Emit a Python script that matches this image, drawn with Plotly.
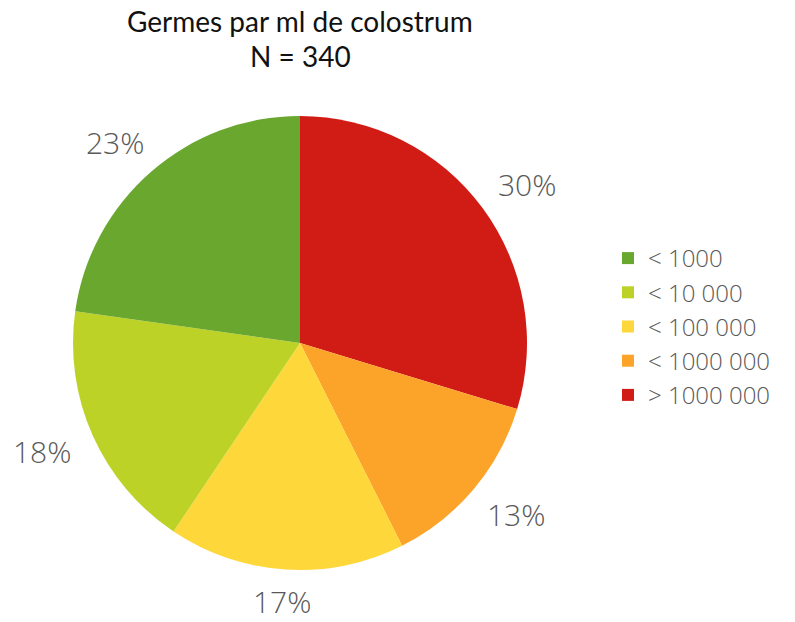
import math
import plotly.graph_objects as go

# Colony counts per ml of colostrum, share of samples (%)
categories = ["< 1000", "< 10 000", "< 100 000", "< 1000 000", "> 1000 000"]
shares = [23, 18, 17, 13, 30]
colors = ["#6aa72f", "#bdd227", "#fed73b", "#fca42a", "#d11c16"]

W, H = 795, 622
cx, cy, R = 300, 343, 227  # pie centre and radius in pixels

# Slices run counter-clockwise from 12 o'clock in category order:
# drawn clockwise with the order reversed, legend reversed back.
fig = go.Figure(
    go.Pie(
        labels=categories[::-1],
        values=shares[::-1],
        marker=dict(colors=colors[::-1], line=dict(width=0)),
        sort=False,
        direction="clockwise",
        rotation=0,
        textinfo="none",
        hoverinfo="label+value",
        domain=dict(x=[(cx - R) / W, (cx + R) / W], y=[1 - (cy + R) / H, 1 - (cy - R) / H]),
    )
)

# Percentage labels placed outside each slice, at the slice mid-angle
total = sum(shares)
cum = 0
gap, box_w, box_h = 22, 66, 34
half_line = 21  # half the height of a label's text box
for val in shares:
    mid = (cum + val / 2) / total * 2 * math.pi  # counter-clockwise from 12 o'clock
    cum += val
    ux, uy = -math.sin(mid), -math.cos(mid)  # screen coords (y down)
    px = cx + (R + gap) * ux + box_w / 2 * ux
    py = cy + (R + gap) * uy + box_h / 2 * uy
    py = min(max(py, half_line), H - half_line)  # keep inside the page
    fig.add_annotation(
        x=px / W, y=1 - py / H, xref="paper", yref="paper",
        text=f"{val}%", showarrow=False,
        xanchor="center", yanchor="middle",
        font=dict(family="Open Sans", size=30, color="#595959", weight=300),
    )

# Two-line title
for line, ypix in [("Germes par ml de colostrum", 21), ("N = 340", 56)]:
    fig.add_annotation(
        x=cx / W, y=1 - ypix / H, xref="paper", yref="paper",
        text=line, showarrow=False, xanchor="center", yanchor="middle",
        font=dict(family="Lato", size=28, color="#111111"),
    )

fig.update_layout(
    width=W, height=H,
    margin=dict(l=0, r=0, t=0, b=0),
    paper_bgcolor="white", plot_bgcolor="white",
    legend=dict(
        x=608 / W, y=1 - 236 / H, xanchor="left", yanchor="top",
        font=dict(family="Open Sans", size=24, color="#595959", weight=300),
        tracegroupgap=0, itemwidth=30, traceorder="reversed",
    ),
    showlegend=True,
)

fig.write_html("out.html")
